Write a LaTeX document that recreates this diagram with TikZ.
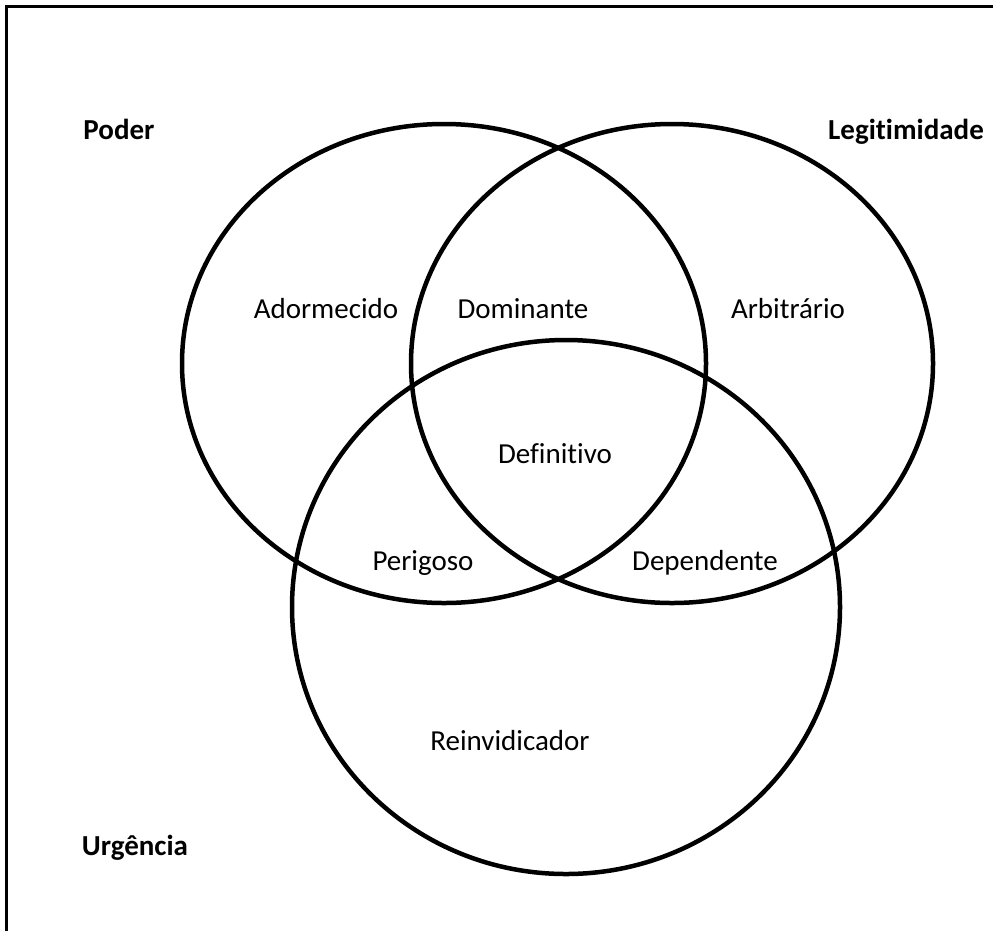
\documentclass[tikz,border=0pt]{standalone}
\usepackage{fontspec}
\setmainfont[Ligatures={NoCommon,NoContextual,NoRare,NoDiscretionary}]{Carlito}
\begin{document}
\begin{tikzpicture}[x=1pt,y=-1pt,
  lbl/.style={inner sep=0pt,anchor=base,font=\fontsize{29}{35}\selectfont},
  ttl/.style={inner sep=0pt,anchor=base,font=\fontsize{29}{35}\selectfont\bfseries},
  ring/.style={line width=4.5pt},
  frame/.style={line width=3pt}]
\useasboundingbox (0,0) rectangle (1003,930);
\coordinate (fTR) at (993,6.5);
\coordinate (fTL) at (6.5,6.5);
\coordinate (fBL) at (6.5,935);
\draw[frame] (fTR) -- (fTL) -- (fBL);
\draw[ring] (444,363.5) ellipse [x radius=262pt, y radius=239.5pt];
\draw[ring] (672,363.5) ellipse [x radius=261pt, y radius=239.5pt];
\draw[ring] (566,607) ellipse [x radius=274pt, y radius=267pt];
\node[ttl] (poder) at (119,139) {Poder};
\node[ttl] (legit) at (906,139) {Legitimidade};
\node[ttl] (urg) at (135,855) {Urgência};
\node[lbl] (ador) at (326,318) {Adormecido};
\node[lbl] (domi) at (523,318) {Dominante};
\node[lbl] (arbi) at (788,318) {Arbitrário};
\node[lbl] (defi) at (555,463) {Definitivo};
\node[lbl] (peri) at (423,570) {Perigoso};
\node[lbl] (depe) at (705,570) {Dependente};
\node[lbl] (rein) at (510,750) {Reinvidicador};
\end{tikzpicture}
\end{document}
